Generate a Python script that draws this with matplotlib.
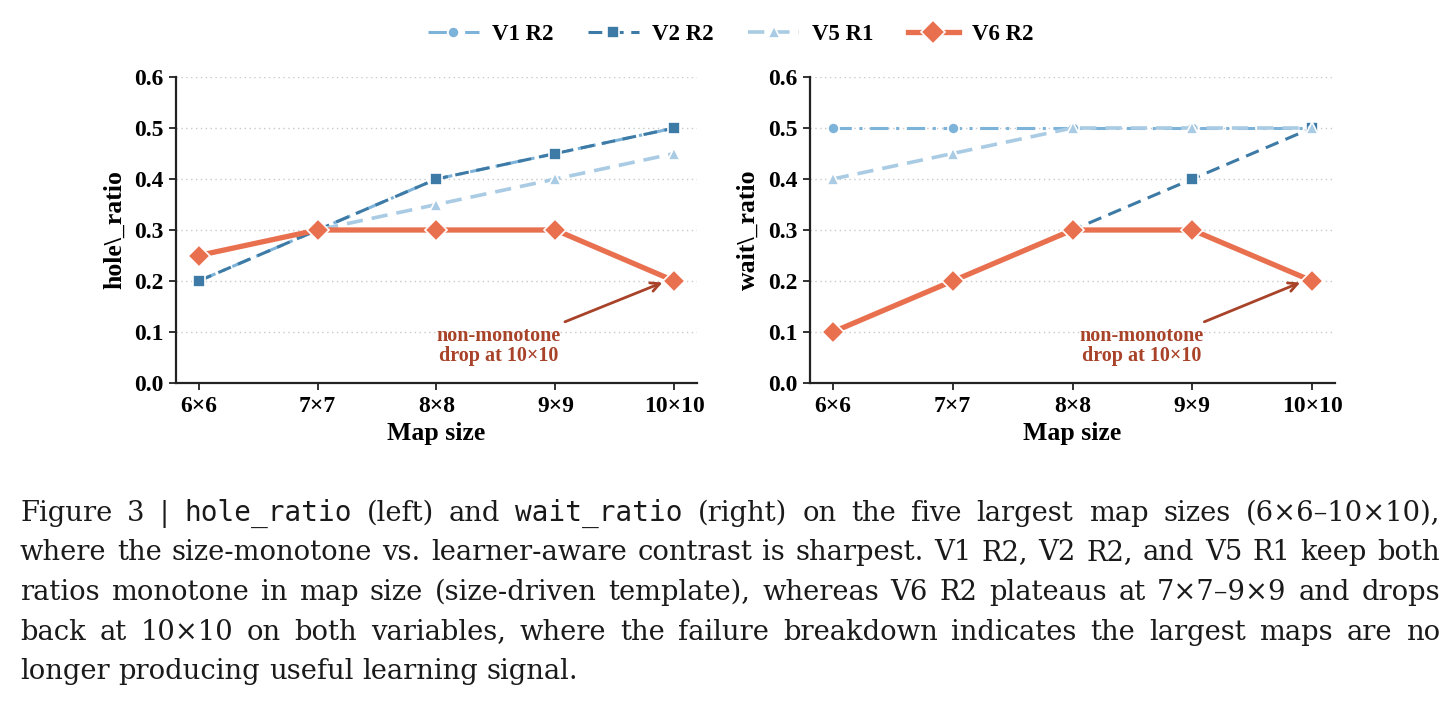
import matplotlib
matplotlib.use("Agg")
import matplotlib.pyplot as plt
from matplotlib.lines import Line2D

# ---------------- data ----------------
sizes = ["6×6", "7×7", "8×8", "9×9", "10×10"]
series_names = ["V1 R2", "V2 R2", "V5 R1", "V6 R2"]

hole_v1 = [0.20, 0.30, 0.40, 0.45, 0.50]
hole_v2 = [0.20, 0.30, 0.40, 0.45, 0.50]
hole_v5 = [0.25, 0.30, 0.35, 0.40, 0.45]
hole_v6 = [0.25, 0.30, 0.30, 0.30, 0.20]

wait_v1 = [0.50, 0.50, 0.50, 0.50, 0.50]
wait_v2 = [0.10, 0.20, 0.30, 0.40, 0.50]
wait_v5 = [0.40, 0.45, 0.50, 0.50, 0.50]
wait_v6 = [0.10, 0.20, 0.30, 0.30, 0.20]

yticks = [0.0, 0.1, 0.2, 0.3, 0.4, 0.5, 0.6]
annot_text = "non-monotone\ndrop at 10×10"

caption_lines = [
    [("Figure 3 | ", False), ("hole_ratio", True), (" (left) and ", False), ("wait_ratio", True),
     (" (right) on the five largest map sizes (6×6–10×10),", False)],
    [("where the size-monotone vs. learner-aware contrast is sharpest. V1 R2, V2 R2, and V5 R1 keep both", False)],
    [("ratios monotone in map size (size-driven template), whereas V6 R2 plateaus at 7×7–9×9 and drops", False)],
    [("back at 10×10 on both variables, where the failure breakdown indicates the largest maps are no", False)],
    [("longer producing useful learning signal.", False)],
]

# ---------------- style ----------------
W, H = 1449, 701
DPI = 100
SERIF_B = "Liberation Serif"
C_V1 = "#7db3d9"
C_V2 = "#3d7ba6"
C_V5 = "#a9cbe3"
C_V6 = "#e8704f"
C_ANN = "#a8432a"

styles = {
    "V1 R2": dict(color=C_V1, ls=(0, (6, 2.5, 1, 2.5)), marker="o", ms=8, lw=2.2),
    "V2 R2": dict(color=C_V2, ls=(0, (4.5, 2.5)), marker="s", ms=8, lw=2.2),
    "V5 R1": dict(color=C_V5, ls=(0, (4.5, 2.5)), marker="^", ms=8, lw=2.6),
    "V6 R2": dict(color=C_V6, ls="-", marker="D", ms=11, lw=3.8),
}

fig = plt.figure(figsize=(W / DPI, H / DPI), dpi=DPI)
fig.patch.set_facecolor("white")

ax_l = fig.add_axes([176 / W, 1 - 383 / H, (697 - 176) / W, (383 - 77) / H])
ax_r = fig.add_axes([810 / W, 1 - 383 / H, (1335 - 810) / W, (383 - 77) / H])

xs = list(range(len(sizes)))


def draw(ax, data, ylabel, annot_xy, annot_tail, annot_txt_pos):
    for name, vals in zip(series_names, data):
        st = styles[name]
        ax.plot(xs, vals, color=st["color"], linestyle=st["ls"], lw=st["lw"],
                marker=st["marker"], markersize=st["ms"], markeredgecolor="white",
                markeredgewidth=1.2, label=name, zorder=3 if name != "V6 R2" else 4,
                dash_capstyle="butt")
    ax.set_xlim(-0.19, 4.19)
    ax.set_ylim(0, 0.6)
    ax.set_xticks(xs)
    ax.set_xticklabels(sizes)
    ax.set_yticks(yticks)
    ax.set_yticklabels([f"{v:.1f}" for v in yticks])
    for lab in ax.get_xticklabels() + ax.get_yticklabels():
        lab.set_fontfamily(SERIF_B)
        lab.set_fontweight("bold")
        lab.set_fontsize(17)
    ax.tick_params(axis="both", length=5, width=1.3, color="#222222", pad=4)
    ax.grid(axis="y", linestyle=(0, (1, 2.5)), color="#c8c8c8", lw=1.0, zorder=0)
    ax.set_axisbelow(True)
    for s in ["top", "right"]:
        ax.spines[s].set_visible(False)
    for s in ["left", "bottom"]:
        ax.spines[s].set_linewidth(1.6)
        ax.spines[s].set_color("#222222")
    ax.set_xlabel("Map size", fontfamily=SERIF_B, fontweight="bold", fontsize=18.5, labelpad=4)
    ax.set_ylabel(ylabel, fontfamily=SERIF_B, fontweight="bold", fontsize=18.5, labelpad=6)
    ax.annotate("", xy=annot_xy, xytext=annot_tail,
                arrowprops=dict(arrowstyle="->", color=C_ANN, lw=2.0, mutation_scale=16,
                                shrinkA=0, shrinkB=0), zorder=5)
    ax.text(annot_txt_pos[0], annot_txt_pos[1], annot_text, ha="center", va="center",
            color=C_ANN, fontfamily=SERIF_B, fontweight="bold", fontsize=14.5,
            linespacing=1.0, zorder=5)


draw(ax_l, [hole_v1, hole_v2, hole_v5, hole_v6], "hole\\_ratio",
     (3.90, 0.197), (3.08, 0.12), (2.52, 0.073))
draw(ax_r, [wait_v1, wait_v2, wait_v5, wait_v6], "wait\\_ratio",
     (3.90, 0.197), (3.10, 0.12), (2.58, 0.073))

handles = []
for name in series_names:
    st = styles[name]
    handles.append(Line2D([0], [0], color=st["color"], linestyle=st["ls"], lw=st["lw"],
                          marker=st["marker"], markersize=st["ms"] if name != "V6 R2" else 12,
                          markeredgecolor="white", markeredgewidth=1.2))
fig.legend(handles, series_names, loc="center", bbox_to_anchor=(731 / W, 1 - 34 / H),
           ncol=4, frameon=False, handlelength=2.2, columnspacing=1.5, handletextpad=0.6,
           prop=dict(family=SERIF_B, weight="bold", size=16.5))

# ---------------- caption (justified) ----------------
CAP_SERIF = "DejaVu Serif"
CAP_MONO = "DejaVu Sans Mono"
x_left, x_right = 20, 1440
baselines = [521, 560.5, 600, 639.5, 679]

renderer = fig.canvas.get_renderer()


def measure(piece, mono, fs):
    t = fig.text(0, 0, piece, fontsize=fs, fontfamily=CAP_MONO if mono else CAP_SERIF)
    bb = t.get_window_extent(renderer=renderer)
    t.remove()
    return bb.width


# calibrate caption font sizes against the reference widths
fs_cap = 10 * 562 / measure(caption_lines[-1][0][0], False, 10)
fs_mono = 10 * 167 / measure("hole_ratio", True, 10)


def tokens_of(line):
    words = [[]]
    for txt, mono in line:
        parts = txt.split(" ")
        for i, p in enumerate(parts):
            if i > 0 and words[-1]:
                words.append([])
            if p:
                words[-1].append((p, mono))
    if not words[-1]:
        words.pop()
    return words


def fsz(m):
    return fs_mono if m else fs_cap


avail = x_right - x_left
for li, line in enumerate(caption_lines):
    words = tokens_of(line)
    widths = []
    for w in words:
        widths.append([measure(p, m, fsz(m)) for p, m in w])
    tot = sum(sum(w) for w in widths)
    if li < len(caption_lines) - 1:
        gap = (avail - tot) / (len(words) - 1)
    else:
        gap = measure("a b", False, fs_cap) - measure("ab", False, fs_cap)
    x = x_left
    for w, ws in zip(words, widths):
        for (p, m), pw in zip(w, ws):
            fig.text(x / W, 1 - baselines[li] / H, p, fontsize=fsz(m), va="baseline",
                     fontfamily=CAP_MONO if m else CAP_SERIF, color="#1a1a1a")
            x += pw
        x += gap

fig.savefig("out.png", dpi=DPI, facecolor="white")
